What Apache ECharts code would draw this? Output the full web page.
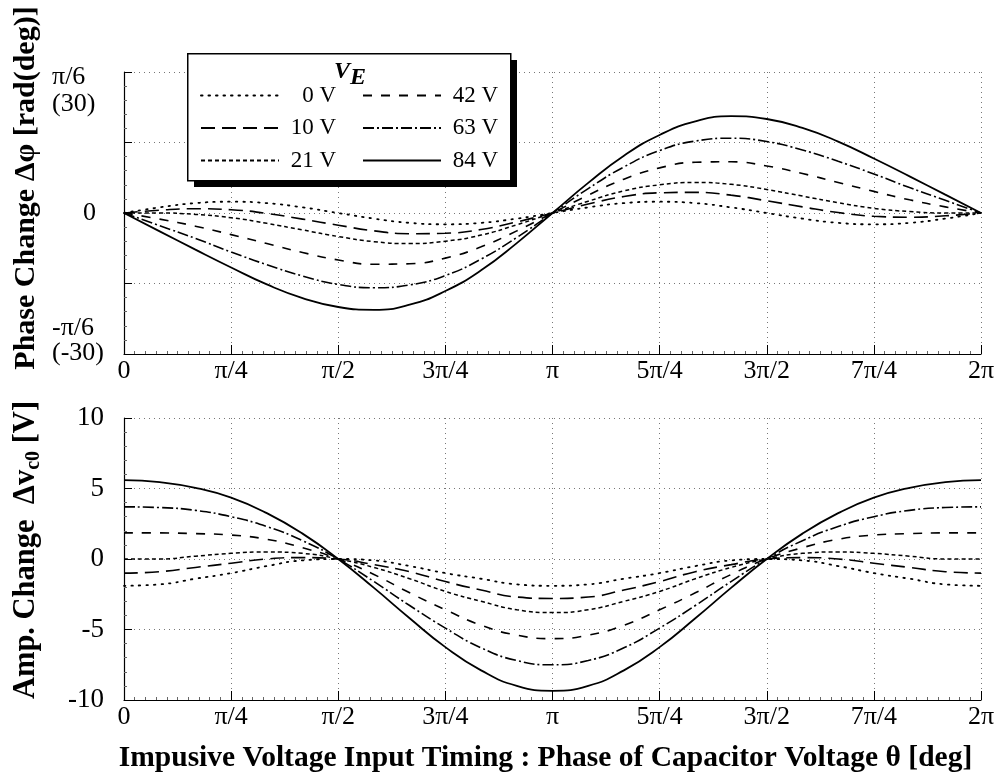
<!DOCTYPE html>
<html>
<head>
<meta charset="utf-8">
<script src="https://cdn.jsdelivr.net/npm/echarts@6/dist/echarts.min.js"></script>
<style>
html,body{margin:0;padding:0;background:#fff;}
#chart{width:997px;height:775px;}
</style>
</head>
<body>
<div id="chart"></div>
<script>
// ---- data ----
const theta = [0,15,30,45,60,75,90,105,120,135,150,165,180,195,210,225,240,255,270,285,300,315,330,345,360];
const seriesNames = ['0 V','10 V','21 V','42 V','63 V','84 V'];
const xTickValues = [0,45,90,135,180,225,270,315,360];
const xTickLabels = ['0','π/4','π/2','3π/4','π','5π/4','3π/2','7π/4','2π'];
const phaseTickValues = [-30,0,30];
const phaseTickLabels = [['-π/6','(-30)'],['0'],['π/6','(30)']];

// Phase change Δφ [deg]
const phase0  = [0,1.2,2.1,2.4,2.1,1.2,0,-1.2,-2.1,-2.4,-2.1,-1.2,0,1.2,2.1,2.4,2.1,1.2,0,-1.2,-2.1,-2.4,-2.1,-1.2,0];
const phase10 = [0,0.6,0.9,0.7,-0.1,-1.3,-2.6,-3.8,-4.4,-4.3,-3.5,-1.9,0,1.9,3.5,4.3,4.4,3.8,2.6,1.3,0.1,-0.7,-0.9,-0.6,0];
const phase21 = [0,0.0,-0.3,-1.0,-2.2,-3.6,-5.0,-6.1,-6.5,-6.0,-4.7,-2.5,0,2.5,4.7,6.0,6.5,6.1,5.0,3.6,2.2,1.0,0.3,0.0,0];
const phase42 = [0,-1.3,-2.8,-4.6,-6.5,-8.4,-10.0,-10.9,-10.8,-9.6,-7.2,-3.8,0,3.8,7.2,9.6,10.8,10.9,10.0,8.4,6.5,4.6,2.8,1.3,0];
const phase63 = [0,-2.7,-5.4,-8.3,-11.0,-13.4,-15.2,-15.9,-15.3,-13.3,-9.8,-5.2,0,5.2,9.8,13.3,15.3,15.9,15.2,13.4,11.0,8.3,5.4,2.7,0];
const phase84 = [0,-3.9,-7.8,-11.6,-15.2,-18.1,-20.0,-20.6,-19.5,-16.6,-12.2,-6.4,0,6.4,12.2,16.6,19.5,20.6,20.0,18.1,15.2,11.6,7.8,3.9,0];

// Amplitude change Δvc0 [V]
const amp0  = [-1.9,-1.8,-1.4,-1.0,-0.5,-0.1,0,-0.1,-0.5,-1.0,-1.4,-1.8,-1.9,-1.8,-1.4,-1.0,-0.5,-0.1,0,-0.1,-0.5,-1.0,-1.4,-1.8,-1.9];
const amp10 = [-1.0,-0.9,-0.6,-0.3,0.0,0.1,0,-0.4,-0.9,-1.6,-2.2,-2.7,-2.8,-2.7,-2.2,-1.6,-0.9,-0.4,0,0.1,0.0,-0.3,-0.6,-0.9,-1.0];
const amp21 = [0.0,0.0,0.2,0.4,0.5,0.4,0,-0.6,-1.4,-2.3,-3.0,-3.6,-3.8,-3.6,-3.0,-2.3,-1.4,-0.6,0,0.4,0.5,0.4,0.2,0.0,0.0];
const amp42 = [1.85,1.85,1.8,1.7,1.4,0.8,0,-1.1,-2.4,-3.6,-4.7,-5.4,-5.65,-5.4,-4.7,-3.6,-2.4,-1.1,0,0.8,1.4,1.7,1.8,1.85,1.85];
const amp63 = [3.7,3.65,3.45,3.0,2.3,1.3,0,-1.6,-3.3,-4.9,-6.3,-7.2,-7.5,-7.2,-6.3,-4.9,-3.3,-1.6,0,1.3,2.3,3.0,3.45,3.65,3.7];
const amp84 = [5.6,5.45,5.05,4.35,3.25,1.8,0,-2.05,-4.2,-6.25,-7.9,-9.0,-9.35,-9.0,-7.9,-6.25,-4.2,-2.05,0,1.8,3.25,4.35,5.05,5.45,5.6];

const phaseSets = [phase0,phase10,phase21,phase42,phase63,phase84];
const ampSets = [amp0,amp10,amp21,amp42,amp63,amp84];

// ---- styles ----
const SERIF = '"Liberation Serif","Times New Roman",serif';
const dashes = [[1.5,6],[14,7],[4,3],[9,9],[11,3,2,3],'solid'];
const widths = [1.8,1.6,1.5,1.6,1.6,1.8];

function pairs(arr){ return theta.map((t,i)=>[t,arr[i]]); }

const series = [];
seriesNames.forEach((name,k)=>{
  const ls = {color:'#000', width:widths[k], type:dashes[k], cap: k===0?'round':'butt'};
  series.push({name, type:'line', xAxisIndex:0, yAxisIndex:0, data:pairs(phaseSets[k]),
    smooth:0.5, symbol:'none', lineStyle:ls, itemStyle:{color:'#000'}, z:3});
  series.push({name, type:'line', xAxisIndex:1, yAxisIndex:1, data:pairs(ampSets[k]),
    smooth:0.5, symbol:'none', lineStyle:ls, itemStyle:{color:'#000'}, z:3});
});

function xLabel(v){ const i = xTickValues.indexOf(v); return i>=0 ? xTickLabels[i] : ''; }
function phaseLabel(v){
  const i = phaseTickValues.indexOf(v);
  if (i < 0) return '';
  const p = phaseTickLabels[i];
  if (v > 0) return '{a|'+p[0]+'}\n{b|'+p[1]+'}';
  if (v < 0) return '{c|'+p[0]+'}\n{d|'+p[1]+'}';
  return '{z|'+p[0]+'}';
}

const gridLine = {show:true, lineStyle:{color:'#777', width:1, type:[1,4]}};
function xAxisCfg(gridIndex, extra){
  return Object.assign({
    type:'value', gridIndex, min:0, max:360, interval:45,
    axisLine:{show:true, onZero:false, lineStyle:{color:'#000', width:1.2}},
    axisTick:{show:true, inside:true, length:9, lineStyle:{color:'#000'}},
    minorTick:{show:true, splitNumber:10, length:3, lineStyle:{color:'#666'}},
    splitLine:gridLine,
    axisLabel:{formatter:xLabel, color:'#000', fontFamily:SERIF, fontSize:26, margin:4}
  }, extra||{});
}
const lblBase = {fontFamily:SERIF, fontSize:26, color:'#000'};

const option = {
  animation:false,
  backgroundColor:'#fff',
  grid:[
    {left:124, right:16, top:72, height:282, outerBoundsMode:'none', containLabel:false},
    {left:124, right:16, top:418, height:282, outerBoundsMode:'none', containLabel:false}
  ],
  xAxis:[
    xAxisCfg(0),
    xAxisCfg(1, {
      name:'Impusive Voltage Input Timing : Phase of Capacitor Voltage θ [deg]',
      nameLocation:'middle', nameGap:43,
      nameTextStyle:{color:'#000', fontFamily:SERIF, fontSize:29.5, fontWeight:'bold', padding:[0,14,0,0]}
    })
  ],
  yAxis:[
    {type:'value', gridIndex:0, min:-30, max:30, interval:15,
     axisLine:{show:true, lineStyle:{color:'#000', width:1.2}},
     axisTick:{show:true, inside:true, length:8, lineStyle:{color:'#000'}},
     minorTick:{show:true, splitNumber:5, length:3, lineStyle:{color:'#666'}},
     splitLine:gridLine,
     axisLabel:{formatter:phaseLabel, color:'#000', fontFamily:SERIF, fontSize:26, margin:72,
       align:'left', verticalAlignMaxLabel:'top', verticalAlignMinLabel:'bottom',
       rich:{
         a:Object.assign({lineHeight:10}, lblBase),
         b:Object.assign({lineHeight:44}, lblBase),
         c:Object.assign({lineHeight:48}, lblBase),
         d:Object.assign({lineHeight:2}, lblBase),
         z:Object.assign({lineHeight:28, padding:[0,0,0,31]}, lblBase)
       }},
     name:'Phase Change Δφ [rad(deg)]', nameLocation:'middle', nameRotate:90, nameGap:80,
     nameTextStyle:{color:'#000', fontFamily:SERIF, fontSize:30, fontWeight:'bold', padding:[0,0,0,50]}
    },
    {type:'value', gridIndex:1, min:-10, max:10, interval:5,
     axisLine:{show:true, lineStyle:{color:'#000', width:1.2}},
     axisTick:{show:true, inside:true, length:8, lineStyle:{color:'#000'}},
     minorTick:{show:true, splitNumber:5, length:3, lineStyle:{color:'#666'}},
     splitLine:gridLine,
     axisLabel:{color:'#000', fontFamily:SERIF, fontSize:27, margin:20},
     name:'{b|Amp. Change  Δv}{s|c0}{b| [V]}', nameLocation:'middle', nameRotate:90, nameGap:80,
     nameTextStyle:{color:'#000', fontFamily:SERIF, fontSize:30, fontWeight:'bold', padding:[0,0,0,18],
       rich:{b:{fontFamily:SERIF, fontSize:30.5, fontWeight:'bold', color:'#000', lineHeight:36},
             s:{fontFamily:SERIF, fontSize:20, fontWeight:'bold', color:'#000', verticalAlign:'bottom', lineHeight:27}}}
    }
  ],
  graphic:[
    {type:'rect', left:194, top:60, z:49, shape:{width:323, height:127},
     style:{fill:'#000', lineWidth:0}},
    {type:'rect', left:187, top:53, z:50, shape:{width:323, height:127},
     style:{fill:'#fff', stroke:'#000', lineWidth:1.5}}
  ],
  title:{
    text:'{v|V}{e|E}', left:334, top:60, z:60, padding:0,
    textStyle:{rich:{
      v:{fontFamily:SERIF, fontSize:24, fontWeight:'bold', fontStyle:'italic', color:'#000', lineHeight:30, verticalAlign:'top'},
      e:{fontFamily:SERIF, fontSize:24, fontWeight:'bold', fontStyle:'italic', color:'#000', lineHeight:30, verticalAlign:'bottom', padding:[8,0,0,0]}
    }}
  },
  legend:[0,1].map(c=>({
    data:seriesNames.slice(c*3, c*3+3),
    orient:'vertical', left: c===0 ? 195 : 357, top:79, z:60,
    itemWidth:78, itemHeight:14, itemGap:9.5, selectedMode:false,
    itemStyle:{color:'rgba(0,0,0,0)', borderColor:'rgba(0,0,0,0)', borderWidth:0, opacity:0},
    formatter: n => '{r|'+n+'}',
    textStyle:{color:'#000', fontFamily:SERIF, fontSize:23,
      rich:{r:{width:52, align:'right', fontFamily:SERIF, fontSize:23, color:'#000', lineHeight:24}}}
  })),
  series
};

const chart = echarts.init(document.getElementById('chart'), null, {renderer:'canvas'});
chart.setOption(option);
</script>
</body>
</html>
